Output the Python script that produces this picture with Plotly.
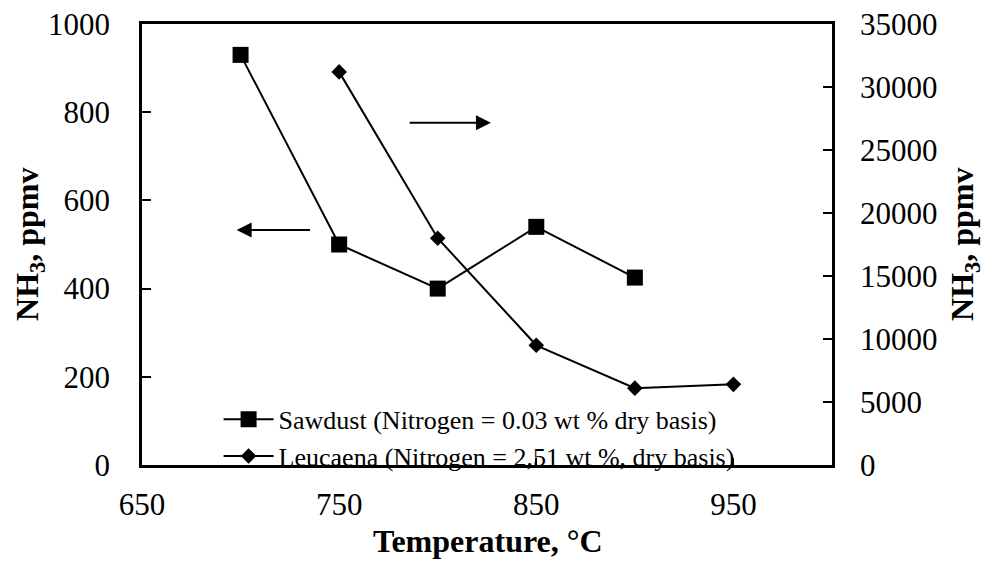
import plotly.graph_objects as go

# NH3 concentration in the product gas versus gasification temperature
temperature_sawdust = [700, 750, 800, 850, 900]
nh3_sawdust_ppmv = [930, 500, 400, 540, 425]

temperature_leucaena = [750, 800, 850, 900, 950]
nh3_leucaena_ppmv = [31200, 18000, 9500, 6100, 6400]

x_ticks = [650, 750, 850, 950]
left_ticks = [0, 200, 400, 600, 800, 1000]
right_ticks = [0, 5000, 10000, 15000, 20000, 25000, 30000, 35000]

FONT = "Liberation Serif, Times New Roman, serif"

fig = go.Figure()

fig.add_trace(go.Scatter(
    x=temperature_sawdust, y=nh3_sawdust_ppmv,
    mode="lines+markers",
    name="Sawdust (Nitrogen = 0.03 wt % dry basis)",
    line=dict(color="black", width=2),
    marker=dict(symbol="square", size=16, color="black"),
    yaxis="y",
))

fig.add_trace(go.Scatter(
    x=temperature_leucaena, y=nh3_leucaena_ppmv,
    mode="lines+markers",
    name="Leucaena (Nitrogen = 2,51 wt %, dry basis)",
    line=dict(color="black", width=2),
    marker=dict(symbol="diamond", size=12, color="black"),
    yaxis="y2",
))

axis_common = dict(
    showgrid=False, zeroline=False, automargin=False,
    showline=True, linecolor="black", linewidth=2.5,
    ticks="inside", tickwidth=2, tickcolor="black",
    tickfont=dict(family=FONT, size=31, color="black"),
)
title_font = dict(family=FONT, size=32, color="black")

fig.update_layout(
    width=987, height=561,
    margin=dict(l=142, r=155, t=24, b=96),
    paper_bgcolor="white", plot_bgcolor="white",
    font=dict(family=FONT, color="black"),
    xaxis=dict(
        range=[650, 1000], tickvals=x_ticks, ticklen=7,
        mirror=True, ticklabelstandoff=10,
        **axis_common,
    ),
    yaxis=dict(
        range=[0, 1000], tickvals=left_ticks, ticklen=9, ticklabelstandoff=23,
        **axis_common,
    ),
    yaxis2=dict(
        range=[0, 35000], tickvals=right_ticks, tickformat="d",
        overlaying="y", side="right", ticklen=9, ticklabelstandoff=19,
        **axis_common,
    ),
    legend=dict(
        x=0.111, y=0.157, xanchor="left", yanchor="top",
        bgcolor="rgba(0,0,0,0)", borderwidth=0,
        font=dict(family=FONT, size=26, color="black"),
        tracegroupgap=0, itemwidth=50,
    ),
    showlegend=True,
)

# Axis titles
fig.add_annotation(
    text="<b>Temperature, °C</b>", xref="paper", yref="paper",
    x=0.5014, y=-0.1723, xanchor="center", yanchor="middle",
    showarrow=False, font=title_font,
)
for x_pos in (-0.1623, 1.1928):
    fig.add_annotation(
        text="<b>NH<sub>3</sub>, ppmv</b>", xref="paper", yref="paper",
        x=x_pos, y=0.499, xanchor="center", yanchor="middle",
        textangle=-90, showarrow=False, font=title_font,
    )

# Arrows pointing to the axis that each series is read against
fig.add_annotation(
    x=698, y=533, ax=736, ay=533, xref="x", yref="y", axref="x", ayref="y",
    showarrow=True, arrowhead=2, arrowsize=1.5, arrowwidth=2, arrowcolor="black", text="",
)
fig.add_annotation(
    x=827, y=776, ax=785, ay=776, xref="x", yref="y", axref="x", ayref="y",
    showarrow=True, arrowhead=2, arrowsize=1.5, arrowwidth=2, arrowcolor="black", text="",
)

fig.write_html("out.html")
